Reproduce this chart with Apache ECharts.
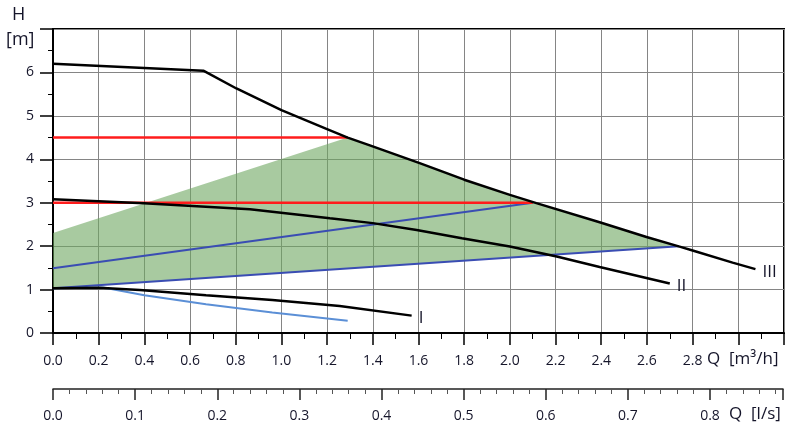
<!DOCTYPE html>
<html><head><meta charset="utf-8">
<script src="https://cdn.jsdelivr.net/npm/echarts@6/dist/echarts.min.js"></script>
<style>html,body{margin:0;padding:0;background:#fff}#c{width:800px;height:433px}</style>
</head><body><div id="c"></div>
<script>
// Curve III (max speed)
const curveIII_Q = [0, 0.658, 0.803, 1.0, 1.197, 1.29, 1.387, 1.605, 1.80, 2.0, 2.116, 2.393, 2.598, 2.743, 2.80, 2.975, 3.075];
const curveIII_H = [6.2, 6.04, 5.63, 5.13, 4.70, 4.50, 4.32, 3.91, 3.53, 3.18, 2.99, 2.55, 2.21, 1.99, 1.90, 1.62, 1.47];
// Curve II
const curveII_Q = [0, 0.398, 0.862, 1.212, 1.40, 1.592, 1.79, 2.0, 2.205, 2.393, 2.70];
const curveII_H = [3.08, 2.99, 2.85, 2.64, 2.53, 2.37, 2.18, 1.99, 1.76, 1.52, 1.14];
// Curve I
const curveI_Q = [0, 0.2, 0.38, 0.67, 0.96, 1.255, 1.57];
const curveI_H = [1.03, 1.04, 0.99, 0.87, 0.76, 0.62, 0.40];
// Light blue curve
const lightBlue_Q = [0, 0.22, 0.4, 0.67, 0.96, 1.29];
const lightBlue_H = [1.03, 1.05, 0.87, 0.66, 0.47, 0.28];
// Blue proportional lines
const blueUpper_Q = [0, 2.1];
const blueUpper_H = [1.49, 3.0];
const blueLower_Q = [0, 2.74];
const blueLower_H = [1.03, 2.0];
// Red constant-pressure lines
const redHigh_Q = [0, 1.29];
const redHigh_H = [4.5, 4.5];
const redLow_Q = [0, 2.1];
const redLow_H = [3.0, 3.0];
// Green operating area boundary
const green_Q = [0, 1.29, 1.387, 1.605, 1.80, 2.0, 2.116, 2.393, 2.598, 2.74, 0];
const green_H = [2.3, 4.5, 4.32, 3.91, 3.53, 3.18, 2.99, 2.55, 2.21, 2.0, 1.03];
// Axes
const qMax_m3h = 3.2;
const hMax = 7;
const m3hPerLs = 3.6;

const zip = (a, b) => a.map((v, i) => [v, b[i]]);
const FONT = "'Open Sans', 'Noto Sans', sans-serif";
const TXT = '#15152a';

const chart = echarts.init(document.getElementById('c'), null, {renderer: 'canvas'});

function lineSeries(q, h, color, width, label) {
  const s = {
    type: 'line', xAxisIndex: 0, yAxisIndex: 0,
    data: zip(q, h), showSymbol: false, symbol: 'none', smooth: false,
    lineStyle: {color: color, width: width}, silent: true, z: 5
  };
  if (label) {
    s.endLabel = {show: true, formatter: label, distance: 7, color: TXT,
      fontFamily: FONT, fontSize: 17, align: 'left', verticalAlign: 'middle', offset: [0, 3]};
  }
  return s;
}

chart.setOption({
  animation: false,
  backgroundColor: '#fff',
  grid: [
    {left: 53, right: 16, top: 29, bottom: 100, show: true, borderColor: '#000', borderWidth: 2, backgroundColor: 'transparent'},
    {left: 53, right: 17, top: 379, height: 10, show: false}
  ],
  xAxis: [
    {type: 'value', gridIndex: 0, min: 0, max: qMax_m3h, interval: 0.2,
     axisLine: {show: true, lineStyle: {color: '#000', width: 2}},
     axisTick: {show: true, length: 12, lineStyle: {color: '#000', width: 1.5}},
     minorTick: {show: true, splitNumber: 2, length: 6, lineStyle: {color: '#000', width: 1}},
     splitLine: {show: true, lineStyle: {color: '#858585', width: 1}},
     axisLabel: {margin: 21, fontFamily: FONT, fontSize: 14, color: TXT,
       formatter: v => v <= 2.81 ? v.toFixed(1) : ''}
    },
    {type: 'value', gridIndex: 1, min: 0, max: qMax_m3h / m3hPerLs, interval: 0.1,
     axisLine: {show: true, lineStyle: {color: '#222', width: 1.5}},
     axisTick: {show: true, length: 11, lineStyle: {color: '#222', width: 1.5}},
     minorTick: {show: true, splitNumber: 5, length: 5, lineStyle: {color: '#555', width: 1}},
     splitLine: {show: false},
     axisLabel: {margin: 20, fontFamily: FONT, fontSize: 14, color: TXT,
       formatter: v => v <= 0.81 ? v.toFixed(1) : ''}
    }
  ],
  yAxis: [
    {type: 'value', gridIndex: 0, min: 0, max: hMax, interval: 1,
     axisLine: {show: true, lineStyle: {color: '#000', width: 2}},
     axisTick: {show: true, length: 13, lineStyle: {color: '#000', width: 1.5}},
     minorTick: {show: true, splitNumber: 2, length: 5, lineStyle: {color: '#000', width: 1}},
     splitLine: {show: true, lineStyle: {color: '#858585', width: 1}},
     axisLabel: {margin: 19, fontFamily: FONT, fontSize: 14, color: TXT,
       formatter: v => v <= 6 ? String(v) : ''}
    },
    {type: 'value', gridIndex: 1, min: 0, max: 1, show: false}
  ],
  graphic: [
    {type: 'text', left: 12, top: 6, style: {text: 'H', font: '18px ' + FONT, fill: TXT}},
    {type: 'text', left: 6, top: 31, style: {text: '[m]', font: '18px ' + FONT, fill: TXT}},
    {type: 'text', left: 707, top: 351, style: {text: 'Q  [m³/h]', font: '17px ' + FONT, fill: TXT}},
    {type: 'text', left: 729, top: 406, style: {text: 'Q  [l/s]', font: '17px ' + FONT, fill: TXT}}
  ],
  series: [
    {type: 'custom', xAxisIndex: 0, yAxisIndex: 0, silent: true, z: 1,
     data: [[0, 0]],
     renderItem: function (params, api) {
       const pts = green_Q.map((q, i) => api.coord([q, green_H[i]]));
       return {type: 'polygon', shape: {points: pts},
               style: {fill: 'rgba(110,167,96,0.6)'}};
     }
    },
    lineSeries(blueLower_Q, blueLower_H, '#3a4db3', 2),
    lineSeries(blueUpper_Q, blueUpper_H, '#3a4db3', 2),
    lineSeries(lightBlue_Q, lightBlue_H, '#5b8fd6', 2),
    lineSeries(redHigh_Q, redHigh_H, '#ff1c1c', 2.5),
    lineSeries(redLow_Q, redLow_H, '#ff1c1c', 2.5),
    lineSeries(curveI_Q, curveI_H, '#000', 2.5, 'I'),
    lineSeries(curveII_Q, curveII_H, '#000', 2.5, 'II'),
    lineSeries(curveIII_Q, curveIII_H, '#000', 2.5, 'III')
  ]
});
</script>
</body></html>
